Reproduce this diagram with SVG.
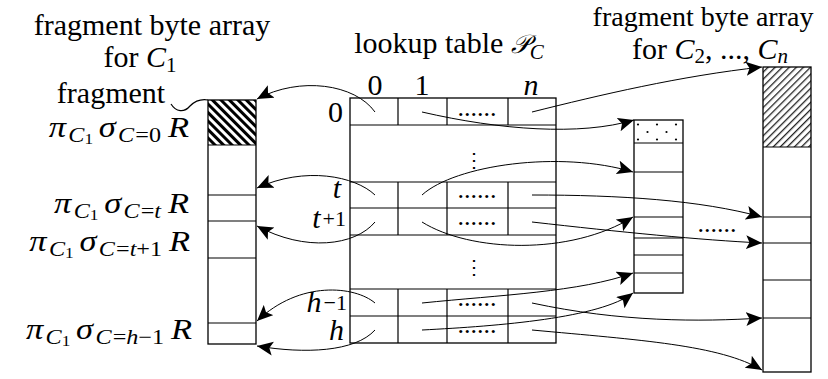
<svg xmlns="http://www.w3.org/2000/svg" width="828" height="379" viewBox="0 0 828 379">
<style>
text{font-family:"Liberation Serif","Times New Roman",serif;fill:#000}
.t{font-size:30px}
.m{font-size:30px}
.s{font-size:21px}
.ss{font-size:15px}
.i{font-style:italic}
.d{font-size:26px}
.box{fill:none;stroke:#000;stroke-width:1.3}
.ln{fill:none;stroke:#000;stroke-width:1.2}
.conn path{fill:none;stroke:#000;stroke-width:1;marker-end:url(#ah)}
</style>
<defs>
<pattern id="hatchL" width="6" height="6" patternUnits="userSpaceOnUse" patternTransform="rotate(-45)"><rect width="6" height="6" fill="#fff"/><rect width="3" height="6" fill="#000"/></pattern>
<pattern id="hatchR" width="5" height="5" patternUnits="userSpaceOnUse" patternTransform="rotate(45)"><rect width="5" height="5" fill="#fff"/><rect width="1.3" height="5" fill="#222"/></pattern>
<pattern id="dots" width="19" height="15" patternUnits="userSpaceOnUse" x="634" y="120"><rect width="19" height="15" fill="#fff"/><circle cx="4" cy="4.5" r="1.1" fill="#000"/><circle cx="13.5" cy="12" r="1.1" fill="#000"/></pattern>
<marker id="ah" markerWidth="18" markerHeight="15" refX="16" refY="7" orient="auto" markerUnits="userSpaceOnUse"><path d="M0,0 L16,7 L0,14 L3.5,7 z" fill="#000"/></marker>
</defs>
<rect width="828" height="379" fill="#fff"/>

<g id="labels-left">
<text class="t" x="152" y="35" text-anchor="middle">fragment byte array</text>
<text class="t" x="140" y="67" text-anchor="middle">for <tspan class="i">C</tspan><tspan class="s" dy="5">1</tspan></text>
<text class="t" x="111" y="103" text-anchor="middle">fragment</text>
<path class="ln" d="M171,104 C176,112 184,113 190,106 C196,100 202,99 208,100"/>
<text class="m" transform="translate(189,137) scale(1.15,1)" text-anchor="end"><tspan class="i">π</tspan><tspan class="i s" dy="5" dx="2">C</tspan><tspan class="ss" dy="2">1</tspan><tspan class="i" dy="-7" dx="5">σ</tspan><tspan class="i s" dy="5" dx="2">C</tspan><tspan class="s" dx="1">=0</tspan><tspan class="i" dy="-5" dx="6">R</tspan></text>
<text class="m" transform="translate(189,213) scale(1.15,1)" text-anchor="end"><tspan class="i">π</tspan><tspan class="i s" dy="5" dx="2">C</tspan><tspan class="ss" dy="2">1</tspan><tspan class="i" dy="-7" dx="5">σ</tspan><tspan class="i s" dy="5" dx="2">C</tspan><tspan class="s" dx="1">=</tspan><tspan class="s i">t</tspan><tspan class="i" dy="-5" dx="6">R</tspan></text>
<text class="m" transform="translate(190,251) scale(1.15,1)" text-anchor="end"><tspan class="i">π</tspan><tspan class="i s" dy="5" dx="2">C</tspan><tspan class="ss" dy="2">1</tspan><tspan class="i" dy="-7" dx="5">σ</tspan><tspan class="i s" dy="5" dx="2">C</tspan><tspan class="s" dx="1">=</tspan><tspan class="s i">t</tspan><tspan class="s">+1</tspan><tspan class="i" dy="-5" dx="6">R</tspan></text>
<text class="m" transform="translate(192,339) scale(1.15,1)" text-anchor="end"><tspan class="i">π</tspan><tspan class="i s" dy="5" dx="2">C</tspan><tspan class="ss" dy="2">1</tspan><tspan class="i" dy="-7" dx="5">σ</tspan><tspan class="i s" dy="5" dx="2">C</tspan><tspan class="s" dx="1">=</tspan><tspan class="s i">h</tspan><tspan class="s">−1</tspan><tspan class="i" dy="-5" dx="6">R</tspan></text>
</g>

<g id="fragC1">
<rect x="208" y="100" width="48" height="45" fill="url(#hatchL)"/>
<rect class="box" x="208" y="100" width="48" height="244"/>
<path class="ln" d="M208,145H256M208,195H256M208,221H256M208,258H256M208,323H256"/>
</g>

<g id="table">
<text class="t" x="449" y="53" text-anchor="middle">lookup table <tspan class="i" font-family="DejaVu Serif" font-size="26">𝒫</tspan><tspan class="i s" dy="6">C</tspan></text>
<text class="t" x="375" y="95" text-anchor="middle">0</text>
<text class="t" x="422" y="95" text-anchor="middle">1</text>
<text class="t i" x="531" y="95" text-anchor="middle">n</text>
<text class="t" x="343" y="122" text-anchor="end">0</text>
<text class="m i" x="341" y="198" text-anchor="end">t</text>
<text class="m" x="346" y="228" text-anchor="end"><tspan class="i">t</tspan><tspan style="font-size:22px" dx="2" dy="-2">+1</tspan></text>
<text class="m" x="347" y="312" text-anchor="end"><tspan class="i">h</tspan><tspan style="font-size:22px" dx="2" dy="-2">−1</tspan></text>
<text class="m i" x="344" y="340" text-anchor="end">h</text>
<rect class="box" x="350" y="98" width="206" height="245"/>
<path class="ln" d="M350,125H556M350,182H556M350,208H556M350,235H556M350,289H556M350,316H556"/>
<path class="ln" d="M398,98V125M447,98V125M508,98V125M398,182V235M447,182V235M508,182V235M398,289V343M447,289V343M508,289V343"/>
<text class="d" x="477" y="116" text-anchor="middle">......</text>
<text class="d" x="477" y="198" text-anchor="middle">......</text>
<text class="d" x="477" y="225" text-anchor="middle">......</text>
<text class="d" x="477" y="306" text-anchor="middle">......</text>
<text class="d" x="477" y="333" text-anchor="middle">......</text>
<text style="font-family:'DejaVu Serif',serif;font-size:20px" x="474" y="167" text-anchor="middle">⋮</text>
<text style="font-family:'DejaVu Serif',serif;font-size:20px" x="474" y="274" text-anchor="middle">⋮</text>
</g>

<g id="fragMid">
<rect x="634" y="120" width="49" height="23" fill="url(#dots)"/>
<rect class="box" x="634" y="120" width="49" height="173"/>
<path class="ln" d="M634,143H683M634,172H683M634,217H683M634,238H683M634,255H683M634,273H683"/>
</g>

<text class="d" x="717" y="232" text-anchor="middle">......</text>

<g id="fragCn">
<text class="t" x="703" y="26" text-anchor="middle" style="font-size:28px">fragment byte array</text>
<text class="t" x="710" y="59" text-anchor="middle">for <tspan class="i">C</tspan><tspan class="s" dy="4">2</tspan><tspan dy="-4">, ..., </tspan><tspan class="i">C</tspan><tspan class="s i" dy="4">n</tspan></text>
<rect x="763" y="67" width="48" height="80" fill="url(#hatchR)"/>
<rect class="box" x="763" y="67" width="48" height="305"/>
<path class="ln" d="M763,147H811M763,217H811M763,243H811M763,280H811M763,318H811"/>
</g>

<g class="conn" id="connectors">
<path d="M375,112 C355,84 300,76 257,99"/>
<path d="M375,195 C355,176 305,166 257,188"/>
<path d="M375,222 C355,246 305,252 257,226"/>
<path d="M375,303 C355,286 300,280 257,321"/>
<path d="M375,330 C355,352 305,354 257,346"/>
<path d="M422,112 C500,130 580,136 634,120"/>
<path d="M532,112 C600,95 680,76 762,67"/>
<path d="M422,195 C455,165 560,150 633,172"/>
<path d="M532,195 C620,195 700,200 762,217"/>
<path d="M422,222 C470,252 570,256 633,217"/>
<path d="M532,222 C620,232 700,240 762,243"/>
<path d="M422,303 C500,295 580,292 633,273"/>
<path d="M532,303 C620,322 700,322 762,318"/>
<path d="M422,330 C500,326 600,318 633,293"/>
<path d="M532,330 C640,340 720,345 762,370"/>
</g>
</svg>
